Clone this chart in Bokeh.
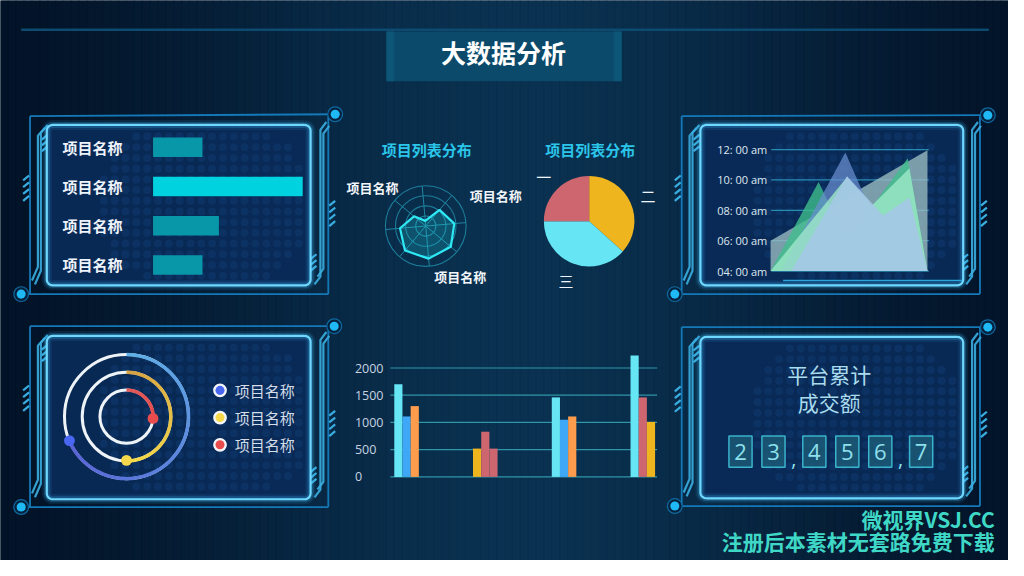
import numpy as np
from bokeh.plotting import figure
from bokeh.models import Range1d
from bokeh.core.properties import value
from bokeh.embed import file_html
from bokeh.resources import INLINE

# ------------------------------------------------------------------ data
title_text = "大数据分析"

hbar_labels = ["项目名称", "项目名称", "项目名称", "项目名称"]
hbar_values = [33, 100, 44, 33]

radar_title = "项目列表分布"
radar_axis_labels = ["项目名称", "项目名称", "项目名称"]
radar_values = [13, 53, 71, 81, 82, 80, 64, 38]          # 8 spokes, clockwise

pie_title = "项目列表分布"
pie_names = ["二", "三", "一"]
pie_values = [36.7, 38.3, 25.0]

area_tick_values = [4, 6, 8, 10, 12]
area_tick_labels = ["04: 00 am", "06: 00 am", "08: 00 am", "10: 00 am", "12: 00 am"]
area_gray_x = [0, 12]
area_gray_y = [6.0, 11.95]
area_green_x = [0, 3.67, 5.85, 10.49, 12]
area_green_y = [4, 9.87, 6.0, 11.42, 4]
area_blue_x = [0.8, 5.72, 7.6, 9.8]
area_blue_y = [4, 11.8, 8.1, 4]
area_mint_x = [0, 5.85, 7.73, 10.62, 12]
area_mint_y = [4, 10.2, 8.3, 10.77, 4]
area_sky_x = [1.58, 5.85, 8.61, 10.62, 12]
area_sky_y = [4, 10.24, 7.66, 8.84, 4]

ring_labels = ["项目名称", "项目名称", "项目名称"]
ring_values = [68.6, 50.0, 26.1]

bar_groups = ["一", "二", "三", "四"]
bar_s1 = [1700, 520, 1460, 2230]
bar_s2 = [1110, 830, 1050, 1460]
bar_s3 = [1300, 520, 1110, 1010]
bar_ticks = [0, 500, 1000, 1500, 2000]

counter_title = ["平台累计", "成交额"]
counter_chars = ["2", "3", ",", "4", "5", "6", ",", "7"]

watermark = ["微视界VSJ.CC", "注册后本素材无套路免费下载"]

# ------------------------------------------------------------------ canvas
FX0, FX1, FY0, FY1 = 0, 1024, 0, 576           # whole reference frame
CJK = "Noto Sans CJK SC"
LAT = "Open Sans"


def fy(y):
    if isinstance(y, (list, tuple, np.ndarray)):
        return [576 - v for v in y]
    return 576 - y


p = figure(width=1008, height=560,
           x_range=Range1d(FX0, FX1), y_range=Range1d(576 - FY1, 576 - FY0),
           output_backend="svg", toolbar_location=None,
           x_axis_type=None, y_axis_type=None, min_border=0,
           outline_line_color=None, background_fill_color="#041b35",
           border_fill_color="#041b35")
p.grid.visible = False


def add_x(name, d0, p0, d1, p1):
    f = lambda px: d0 + (px - p0) * (d1 - d0) / (p1 - p0)
    p.extra_x_ranges[name] = Range1d(f(FX0), f(FX1))


def add_y(name, d0, p0, d1, p1):
    f = lambda py: d0 + (py - p0) * (d1 - d0) / (p1 - p0)
    p.extra_y_ranges[name] = Range1d(f(FY1), f(FY0))


def T(x, y, s, size, color, align="center", bold=False, font=CJK,
      baseline="middle", alpha=1.0, **kw):
    xs = x if isinstance(x, list) else [x]
    ys = y if isinstance(y, list) else [y]
    ss = s if isinstance(s, list) else [s]
    p.text(x=xs, y=ys, text=ss, text_font=value(font),
           text_font_size=value(f"{size}px"), text_color=color,
           text_align=align, text_baseline=baseline,
           text_font_style="bold" if bold else "normal", text_alpha=alpha, **kw)


# ------------------------------------------------------------------ background
nstrip = 128
edges = np.linspace(FX0, FX1, nstrip + 1)
cols = []
dark = np.array([2, 15, 34])
light = np.array([10, 49, 80])
for i in range(nstrip):
    xc = (edges[i] + edges[i + 1]) / 2
    t = np.exp(-((xc - 530) / 360.0) ** 2)
    c = dark + (light - dark) * t
    cols.append("#%02x%02x%02x" % tuple(int(round(v)) for v in c))
p.quad(left=edges[:-1], right=edges[1:], bottom=0, top=576,
       fill_color=cols, line_color=cols, line_width=0.5)

# top line + title box
p.segment(x0=[21], y0=[fy(30)], x1=[1004], y1=[fy(30)], line_color="#0d4a70", line_width=2.5)
p.quad(left=[392], right=[631], top=[fy(32)], bottom=[fy(83)], fill_color="#0b4a6a", line_color=None)
p.quad(left=[392], right=[400], top=[fy(32)], bottom=[fy(83)], fill_color="#0e5677", line_color=None)
p.quad(left=[623], right=[631], top=[fy(32)], bottom=[fy(83)], fill_color="#0e5677", line_color=None)
T(511, fy(53), title_text, 25, "#ffffff", bold=True)


# ------------------------------------------------------------------ panels
def rrect(x0, y0, x1, y1, r, n=7):
    xs, ys = [], []
    for cx, cy, a0, a1 in [(x1 - r, y0 + r, -90, 0), (x1 - r, y1 - r, 0, 90),
                           (x0 + r, y1 - r, 90, 180), (x0 + r, y0 + r, 180, 270)]:
        for a in np.linspace(np.radians(a0), np.radians(a1), n):
            xs.append(cx + r * np.cos(a))
            ys.append(cy + r * np.sin(a))
    xs.append(xs[0]); ys.append(ys[0])
    return xs, ys


def panel(o, inner, ctr, cbl):
    ox0, oy0, ox1, oy1 = o
    ix0, iy0, ix1, iy1 = inner
    # outer frame
    p.segment(x0=[ox0, ox0, ox1, cbl[0]], y0=fy([oy0, oy0, oy0, oy1]),
              x1=[ctr[0], ox0, ox1, ox1], y1=fy([ctr[1], oy1, oy1, oy1]),
              line_color="#1479b8", line_width=1.8)
    # side brackets
    L = "#3aaee0"
    xs = [[ox0 + 15, ox0 + 8, ox0 + 8, ox0 + 2],
          [ox0 + 18, ox0 + 11, ox0 + 11, ox0 + 5],
          [ox1 - 2, ox1 - 8, ox1 - 8, ox1 - 14],
          [ox1 + 1, ox1 - 5, ox1 - 5, ox1 - 11]]
    ys = [[oy0 + 12, oy0 + 20, oy1 - 28, oy1 - 14],
          [oy0 + 9, oy0 + 17, oy1 - 24, oy1 - 10],
          [oy0 + 6, oy0 + 14, oy1 - 18, oy1 - 10],
          [oy0 + 10, oy0 + 18, oy1 - 26, oy1 - 18]]
    p.multi_line(xs=xs, ys=[fy(v) for v in ys], line_color=L, line_width=2.2, line_alpha=0.9)
    hx0, hx1, hy0, hy1 = [], [], [], []
    for k in range(4):
        y = oy0 + 66 + 7 * k
        hx0.append(ox0 - 7); hx1.append(ox0 - 1); hy0.append(y); hy1.append(y - 5)
        y = oy0 + 92 + 7 * k
        hx0.append(ox1 + 1); hx1.append(ox1 + 7); hy0.append(y); hy1.append(y - 5)
    for k in range(3):
        y = oy0 + 24 + 6 * k
        hx0.append(ox0 + 12); hx1.append(ox0 + 18); hy0.append(y); hy1.append(y - 5)
        y = oy1 - 36 + 6 * k
        hx0.append(ox1 - 18); hx1.append(ox1 - 12); hy0.append(y); hy1.append(y - 5)
    p.segment(x0=hx0, x1=hx1, y0=fy(hy0), y1=fy(hy1), line_color=L, line_width=2.2)
    # corner dots
    p.circle(x=[ctr[0], cbl[0]], y=fy([ctr[1], cbl[1]]), radius=7.5,
             fill_color="#06213d", line_color="#0f6aa0", line_width=1.2)
    p.circle(x=[ctr[0], cbl[0]], y=fy([ctr[1], cbl[1]]), radius=4.6,
             fill_color="#1fb9f6", line_color=None)
    # inner glowing panel
    xs, ys = rrect(ix0, iy0, ix1, iy1, 6)
    p.patch(xs, fy(ys), fill_color="#0a2a57", fill_alpha=0.95, line_color=None)
    # dot texture
    gx, gy = np.meshgrid(np.arange(ix0 + 14, ix1 - 8, 11.0), np.arange(iy0 + 12, iy1 - 8, 11.0))
    gx, gy = gx.ravel(), gy.ravel()
    cxm, cym = ix0 + (ix1 - ix0) * 0.6, (iy0 + iy1) / 2
    d = ((gx - cxm) / ((ix1 - ix0) * 0.42)) ** 2 + ((gy - cym) / ((iy1 - iy0) * 0.55)) ** 2
    keep = d < 1
    p.scatter(x=gx[keep], y=fy(gy[keep]), size=8, fill_color="#15447e",
              fill_alpha=0.35, line_color=None)
    for w, a, c in [(10, 0.10, "#3fb8ff"), (6, 0.22, "#3fc4ff"), (2.2, 1.0, "#6fd8ff")]:
        p.line(xs, fy(ys), line_color=c, line_width=w, line_alpha=a)


panel((30, 119, 333, 302), (47, 128, 315, 293), (340, 117), (21, 302))
panel((30, 335, 333, 521), (47, 345, 315, 513), (339, 335), (21, 521))
panel((692, 119, 995, 302), (711, 128, 978, 293), (1003, 118), (685, 302))
panel((692, 336, 995, 520), (711, 346, 978, 512), (1003, 336), (685, 520))

# ------------------------------------------------------------------ top-left horizontal bars
add_x("hb_x", 0, 155, 100, 307)
add_y("hb_y", 0, 151, 3, 272)
hb_idx = list(range(len(hbar_values)))
hb_colors = ["#00d3df" if v == max(hbar_values) else "#0897a9" for v in hbar_values]
p.hbar(y=hb_idx, left=0, right=hbar_values, height=0.5, fill_color=hb_colors,
       line_color=None, x_range_name="hb_x", y_range_name="hb_y")
T([63] * 4, hb_idx, hbar_labels, 15, "#eef4fb", align="left", bold=True, y_range_name="hb_y")

# ------------------------------------------------------------------ radar
T(433, fy(153), radar_title, 15, "#2bc5ea", bold=True)
add_x("rad_x", 0, 432, 100, 473)
add_y("rad_y", 0, 232, 100, 191)
angs = np.radians(95 - 45 * np.arange(len(radar_values)))
p.circle(x=[0] * 4, y=[0] * 4, radius=[25, 50, 75, 100], fill_color=None,
         line_color="#1f86a2", line_width=1.1, line_alpha=0.9,
         x_range_name="rad_x", y_range_name="rad_y")
p.segment(x0=[0] * len(angs), y0=[0] * len(angs), x1=list(100 * np.cos(angs)),
          y1=list(100 * np.sin(angs)), line_color="#1f86a2", line_width=1.0,
          x_range_name="rad_x", y_range_name="rad_y")
rv = np.array(radar_values, dtype=float)
rx = list(rv * np.cos(angs)) + [rv[0] * np.cos(angs[0])]
ry = list(rv * np.sin(angs)) + [rv[0] * np.sin(angs[0])]
p.patch(rx, ry, fill_color="#22d4e4", fill_alpha=0.22, line_color="#2ee8f4",
        line_width=2.2, x_range_name="rad_x", y_range_name="rad_y")
T([378, 503, 467], fy([192, 201, 284]), radar_axis_labels, 13, "#f2f6fa", bold=True)

# ------------------------------------------------------------------ pie
T(599, fy(153), pie_title, 15, "#2bc5ea", bold=True)
add_x("pie_x", 0, 598, 1, 644)
add_y("pie_y", 0, 227, 1, 181)
pv = np.array(pie_values)
cum = np.cumsum(pv) / pv.sum()
prev = np.concatenate([[0], cum[:-1]])
starts = np.pi / 2 - 2 * np.pi * prev
ends = np.pi / 2 - 2 * np.pi * cum
pie_colors = ["#eeb51f", "#66e6f4", "#cd666e"]
p.wedge(x=0, y=0, radius=1, start_angle=list(starts), end_angle=list(ends),
        direction="clock", fill_color=pie_colors, line_color=None,
        x_range_name="pie_x", y_range_name="pie_y")
mid = (starts + ends) / 2
T(list(1.42 * np.cos(mid)), list(1.42 * np.sin(mid) * 1.0), pie_names, 15, "#eef4fb",
  x_range_name="pie_x", y_range_name="pie_y")

# ------------------------------------------------------------------ area chart (top-right)
add_x("ar_x", 0, 782.3, 12, 941.7)
add_y("ar_y", 4, 278.3, 12, 153.3)
p.segment(x0=[783] * 5, x1=[943] * 5, y0=area_tick_values, y1=area_tick_values,
          line_color="#2f9cc0", line_width=1.2, line_alpha=0.85, y_range_name="ar_y")
for xs, ys, c, a in [(area_gray_x, area_gray_y, "#9bbcc2", 0.78),
                     (area_green_x, area_green_y, "#3fbf8c", 0.78),
                     (area_blue_x, area_blue_y, "#6a8fd0", 0.72),
                     (area_mint_x, area_mint_y, "#9de8c8", 0.80),
                     (area_sky_x, area_sky_y, "#a4c8e6", 0.90)]:
    p.varea(x=xs, y1=[4] * len(xs), y2=ys, fill_color=c, fill_alpha=a,
            x_range_name="ar_x", y_range_name="ar_y")
T([728] * 5, area_tick_values, area_tick_labels, 11, "#dfe8f0", align="left",
  font=LAT, y_range_name="ar_y")
p.segment(x0=[795], x1=[977], y0=[fy(288)], y1=[fy(288)], line_color="#2aa6dc", line_width=1.5)

# ------------------------------------------------------------------ rings (bottom-left)
RC = (128, 428)
ring_r = [63, 45, 27]
p.circle(x=[RC[0]] * 3, y=[fy(RC[1])] * 3, radius=ring_r, fill_color=None,
         line_color="#eef3f8", line_width=3)
ring_grad = [("#5fb0e6", "#5a62d6"), ("#d6a243", "#f7de4a"), ("#e05656", "#e64848")]
dot_colors = ["#4a67f2", "#f6d84c", "#e84c4c"]
nseg = 30
for r, v, (c0, c1) in zip(ring_r, ring_values, ring_grad):
    span = 2 * np.pi * v / 100.0
    a = np.pi / 2 - np.linspace(0, span, nseg + 1)
    h0 = np.array([int(c0[i:i + 2], 16) for i in (1, 3, 5)])
    h1 = np.array([int(c1[i:i + 2], 16) for i in (1, 3, 5)])
    cl = ["#%02x%02x%02x" % tuple(int(x) for x in h0 + (h1 - h0) * k / (nseg - 1)) for k in range(nseg)]
    p.arc(x=[RC[0]] * nseg, y=[fy(RC[1])] * nseg, radius=r, start_angle=list(a[:-1]),
          end_angle=list(a[1:] - 0.01), direction="clock", line_color=cl, line_width=3.5)
ends_a = [np.pi / 2 - 2 * np.pi * v / 100.0 for v in ring_values]
p.circle(x=[RC[0] + r * np.cos(e) for r, e in zip(ring_r, ends_a)],
         y=[fy(RC[1]) + r * np.sin(e) for r, e in zip(ring_r, ends_a)],
         radius=5.5, fill_color=dot_colors, line_color=None)
ly = [401, 429, 457]
p.circle(x=[223] * 3, y=fy(ly), radius=7, fill_color="#f4f6fa", line_color=None)
p.circle(x=[223] * 3, y=fy(ly), radius=4.6, fill_color=dot_colors, line_color=None)
T([238] * 3, fy(ly), ring_labels, 15, "#d4dde8", align="left")

# ------------------------------------------------------------------ grouped bars (bottom-middle)
add_x("bc_x", 0, 412.5, 3, 652.5)
add_y("bc_y", 0, 490, 2000, 378)
p.segment(x0=[396] * 5, x1=[667] * 5, y0=bar_ticks, y1=bar_ticks,
          line_color="#2f95a8", line_width=1.2, y_range_name="bc_y")
T([360] * 5, bar_ticks, [str(t) for t in bar_ticks], 12.5, "#c6d3e0", align="left",
  font=LAT, y_range_name="bc_y")
bw = 0.104
group_colors = [["#66e5f4", "#3ea8f7", "#fd9c4d"],
                ["#eeb51f", "#cd666e", "#cd666e"],
                ["#66e5f4", "#3ea8f7", "#fd9c4d"],
                ["#66e5f4", "#cd666e", "#eeb51f"]]
for si, series in enumerate([bar_s1, bar_s2, bar_s3]):
    xs = [i + (si - 1) * bw for i in range(len(bar_groups))]
    p.vbar(x=xs, top=series, width=bw, bottom=0,
           fill_color=[group_colors[g][si] for g in range(len(bar_groups))],
           line_color=None, x_range_name="bc_x", y_range_name="bc_y")

# ------------------------------------------------------------------ counter (bottom-right)
T([842, 842], fy([384, 413]), counter_title, 21, "#a9dced")
bx, cx_comma = [], []
prev_end, pend = None, False
for ch in counter_chars:
    if ch == ",":
        pend = True
        continue
    start = 740 if prev_end is None else prev_end + (18 if pend else 10)
    if pend:
        cx_comma.append((prev_end + start) / 2)
    pend = False
    bx.append(start + 11.75)
    prev_end = start + 23.5
digits = [c for c in counter_chars if c != ","]
p.rect(x=bx, y=[fy(464)] * len(bx), width=23.5, height=32, fill_color="#1d6079",
       fill_alpha=0.75, line_color="#3ab3cc", line_width=1.5)
T(bx, [fy(464)] * len(bx), digits, 22, "#8de0ec", font=LAT)
T(cx_comma, [fy(472)] * len(cx_comma), ["," for _ in cx_comma], 20, "#8de0ec", font=LAT)

# ------------------------------------------------------------------ watermark
T([1010, 1010], fy([533, 556]), watermark, 21, "#3fd8c6", align="right", bold=True)

open("out.html", "w").write(file_html(p, INLINE))
